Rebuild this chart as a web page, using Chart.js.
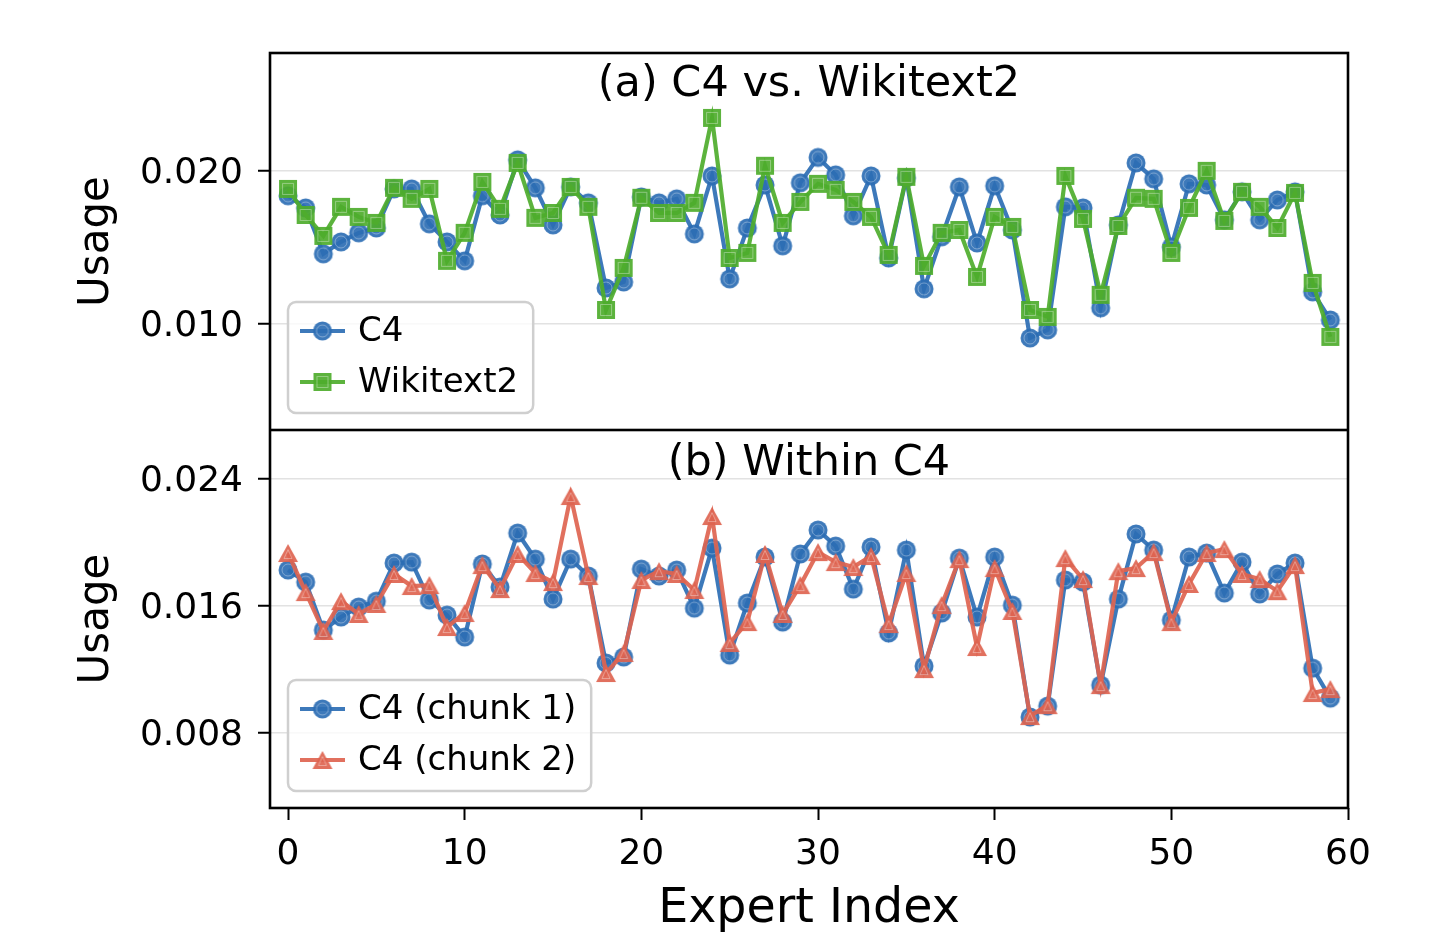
<!DOCTYPE html>
<html lang="en">
<head>
<meta charset="UTF-8" />
<title>Expert usage</title>
<script src="https://cdn.jsdelivr.net/npm/chart.js@4.4.1/dist/chart.umd.min.js"></script>
<style>
  html,body{margin:0;padding:0;background:#fff;}
  .wrap{position:relative;width:1450px;height:950px;}
  canvas{position:absolute;left:0;}
  #top{top:0}
  #bot{top:430px}
</style>
</head>
<body>
<div class="wrap">
  <canvas id="top" width="1450" height="430"></canvas>
  <canvas id="bot" width="1450" height="520"></canvas>
</div>
<script>
// expert index on x
const experts = [0,1,2,3,4,5,6,7,8,9,10,11,12,13,14,15,16,17,18,19,
  20,21,22,23,24,25,26,27,28,29,30,31,32,33,34,35,36,37,38,39,
  40,41,42,43,44,45,46,47,48,49,50,51,52,53,54,55,56,57,58,59];

// (a) C4 vs. Wikitext2
const c4 = [0.01837,0.01758,0.01458,0.01536,0.01595,0.01627,0.01882,0.01882,0.01654,0.01536,
  0.01412,0.01837,0.01712,0.02072,0.01889,0.01647,0.01895,0.01791,0.01235,0.01274,
  0.01830,0.01791,0.01817,0.01588,0.01967,0.01294,0.01627,0.01908,0.01510,0.01922,
  0.02088,0.01974,0.01706,0.01967,0.01431,0.01954,0.01229,0.01569,0.01895,0.01529,
  0.01902,0.01614,0.00908,0.00961,0.01765,0.01758,0.01105,0.01647,0.02052,0.01948,
  0.01503,0.01915,0.01908,0.01680,0.01863,0.01680,0.01810,0.01863,0.01209,0.01026];
const wikitext2 = [0.01882,0.01712,0.01575,0.01765,0.01699,0.01660,0.01889,0.01817,0.01882,0.01412,
  0.01595,0.01928,0.01752,0.02052,0.01693,0.01725,0.01895,0.01765,0.01091,0.01366,
  0.01824,0.01725,0.01725,0.01791,0.02346,0.01431,0.01464,0.02033,0.01660,0.01797,
  0.01915,0.01876,0.01797,0.01699,0.01451,0.01961,0.01379,0.01595,0.01614,0.01307,
  0.01699,0.01634,0.01091,0.01046,0.01967,0.01686,0.01190,0.01640,0.01824,0.01817,
  0.01464,0.01758,0.02000,0.01673,0.01863,0.01765,0.01627,0.01856,0.01268,0.00915];

// (b) Within C4
const chunk1 = [0.01827,0.01751,0.01449,0.01531,0.01594,0.01631,0.01871,0.01877,0.01638,0.01543,
  0.01405,0.01865,0.01720,0.02060,0.01896,0.01644,0.01896,0.01789,0.01241,0.01279,
  0.01833,0.01789,0.01827,0.01587,0.01965,0.01291,0.01619,0.01909,0.01499,0.01928,
  0.02079,0.01978,0.01707,0.01972,0.01430,0.01953,0.01222,0.01556,0.01902,0.01531,
  0.01909,0.01606,0.00901,0.00970,0.01764,0.01751,0.01102,0.01644,0.02054,0.01953,
  0.01512,0.01909,0.01934,0.01682,0.01877,0.01676,0.01802,0.01871,0.01209,0.01020];
const chunk2 = [0.01934,0.01688,0.01443,0.01631,0.01550,0.01613,0.01802,0.01726,0.01732,0.01468,
  0.01556,0.01858,0.01707,0.01928,0.01808,0.01751,0.02293,0.01789,0.01178,0.01304,
  0.01764,0.01820,0.01802,0.01701,0.02167,0.01367,0.01499,0.01928,0.01550,0.01732,
  0.01940,0.01877,0.01846,0.01915,0.01487,0.01808,0.01203,0.01606,0.01896,0.01342,
  0.01839,0.01569,0.00907,0.00976,0.01902,0.01770,0.01102,0.01820,0.01839,0.01940,
  0.01499,0.01739,0.01934,0.01959,0.01802,0.01770,0.01694,0.01858,0.01052,0.01077];

const xTicks = [0,10,20,30,40,50,60];
const topTicks = [0.010, 0.020];
const botTicks = [0.008, 0.016, 0.024];

const FONT = 'DejaVu Sans';
const BLUE = 'rgba(45,110,180,0.92)', GREEN = 'rgba(78,172,44,0.92)', RED = 'rgba(222,100,80,0.92)';

// matplotlib-like markers (centred on the point, with a faint inner ring)
function marker(shape, color){
  const c = document.createElement('canvas');
  c.width = 24; c.height = 24;
  const g = c.getContext('2d');
  const path = (inset) => {
    g.beginPath();
    if(shape==='circle') g.arc(12,12,9.5-inset,0,Math.PI*2);
    else if(shape==='square') g.rect(3+inset,3+inset,18-2*inset,18-2*inset);
    else { g.moveTo(12,3+inset*1.6); g.lineTo(22-inset*1.7,21-inset); g.lineTo(2+inset*1.7,21-inset); g.closePath(); }
  };
  path(0); g.fillStyle = color; g.fill();
  path(3.5); g.strokeStyle = 'rgba(255,255,255,0.35)'; g.lineWidth = 1; g.stroke();
  return c;
}

function series(label, vals, color, shape, order){
  return {
    label, order,
    data: experts.map((x,i)=>({x, y: vals[i]})),
    borderColor: color, backgroundColor: color, borderWidth: 4.2,
    pointStyle: marker(shape, color), pointRadius: 10, pointHoverRadius: 10,
    tension: 0
  };
}

const panel = {
  id: 'panel',
  afterDatasetsDraw(chart, args, opts){
    const {ctx, chartArea: a} = chart;
    ctx.save();
    ctx.fillStyle = '#000';
    ctx.font = `43px "${FONT}"`;
    ctx.textAlign = 'center'; ctx.textBaseline = 'middle';
    ctx.fillText(opts.title, (a.left + a.right)/2, a.top + opts.titleY);

    ctx.font = `34px "${FONT}"`;
    const sets = chart.data.datasets;
    const tw = Math.max(...sets.map(d => ctx.measureText(d.label).width));
    const x0 = a.left + 18, w = 70 + tw + 15, h = 111, y0 = a.bottom - 17 - h, r = 8;
    ctx.beginPath();
    ctx.moveTo(x0+r, y0); ctx.lineTo(x0+w-r, y0); ctx.arcTo(x0+w, y0, x0+w, y0+r, r);
    ctx.lineTo(x0+w, y0+h-r); ctx.arcTo(x0+w, y0+h, x0+w-r, y0+h, r);
    ctx.lineTo(x0+r, y0+h); ctx.arcTo(x0, y0+h, x0, y0+h-r, r);
    ctx.lineTo(x0, y0+r); ctx.arcTo(x0, y0, x0+r, y0, r); ctx.closePath();
    ctx.fillStyle = 'rgba(255,255,255,0.8)'; ctx.fill();
    ctx.strokeStyle = '#cfcfcf'; ctx.lineWidth = 2.5; ctx.stroke();

    sets.forEach((d,i) => {
      const cy = y0 + 29 + i*51;
      ctx.strokeStyle = d.borderColor; ctx.lineWidth = d.borderWidth;
      ctx.beginPath(); ctx.moveTo(x0+12, cy); ctx.lineTo(x0+57, cy); ctx.stroke();
      const img = d.pointStyle;
      ctx.drawImage(img, x0+34.5-img.width/2, cy-img.height/2);
      ctx.fillStyle = '#000'; ctx.textAlign = 'left';
      ctx.fillText(d.label, x0+70, cy+1);
    });
    ctx.restore();
  },
  afterDraw(chart){
    const {ctx, chartArea: a} = chart;
    ctx.save();
    ctx.strokeStyle = '#000'; ctx.lineWidth = 2.6;
    ctx.strokeRect(a.left, a.top, a.right - a.left, a.bottom - a.top);
    ctx.restore();
  }
};

function yScale(ticks, min, max){
  return {
    min, max,
    afterBuildTicks: s => { s.ticks = ticks.map(v => ({value: v})); },
    afterFit: s => { s.width = 270; s.paddingTop = 0; s.paddingBottom = 0; },
    ticks: {font: {family: FONT, size: 36}, color: '#000', padding: 15, labelOffset: 3, callback: v => v.toFixed(3)},
    grid: {color: '#e2e2e2', lineWidth: 1.5, tickColor: '#000', tickLength: 12, tickWidth: 2},
    border: {display: false},
    title: {display: true, text: 'Usage', color: '#000', font: {family: FONT, size: 42}, padding: {top: 72, bottom: 0}}
  };
}

const common = {
  responsive: false, animation: false, devicePixelRatio: 1,
  plugins: {legend: {display: false}, tooltip: {enabled: false}}
};

new Chart(document.getElementById('top'), {
  type: 'line',
  data: {datasets: [series('C4', c4, BLUE, 'circle', 2), series('Wikitext2', wikitext2, GREEN, 'square', 1)]},
  options: {
    ...common,
    layout: {autoPadding: false, padding: {top: 53, right: 102, left: 0, bottom: 0}},
    plugins: {...common.plugins, panel: {title: '(a) C4 vs. Wikitext2', titleY: 32}},
    scales: {
      x: {type: 'linear', min: -1.02, max: 60, display: false},
      y: yScale(topTicks, 0.00307, 0.0277)
    }
  },
  plugins: [panel]
});

new Chart(document.getElementById('bot'), {
  type: 'line',
  data: {datasets: [series('C4 (chunk 1)', chunk1, BLUE, 'circle', 2), series('C4 (chunk 2)', chunk2, RED, 'triangle', 1)]},
  options: {
    ...common,
    layout: {autoPadding: false, padding: {top: 0, right: 102, left: 0, bottom: 0}},
    plugins: {...common.plugins, panel: {title: '(b) Within C4', titleY: 34}},
    scales: {
      x: {
        type: 'linear', min: -1.02, max: 60,
        afterBuildTicks: s => { s.ticks = xTicks.map(v => ({value: v})); },
        afterFit: s => { s.height = 142; },
        ticks: {font: {family: FONT, size: 36}, color: '#000', padding: 13, maxRotation: 0, callback: v => String(v)},
        grid: {drawOnChartArea: false, tickColor: '#000', tickLength: 12, tickWidth: 2},
        border: {display: false},
        title: {display: true, text: 'Expert Index', color: '#000', font: {family: FONT, size: 47.5}, padding: {top: 0, bottom: 12}}
      },
      y: yScale(botTicks, 0.00328, 0.02709)
    }
  },
  plugins: [panel]
});
</script>
</body>
</html>
